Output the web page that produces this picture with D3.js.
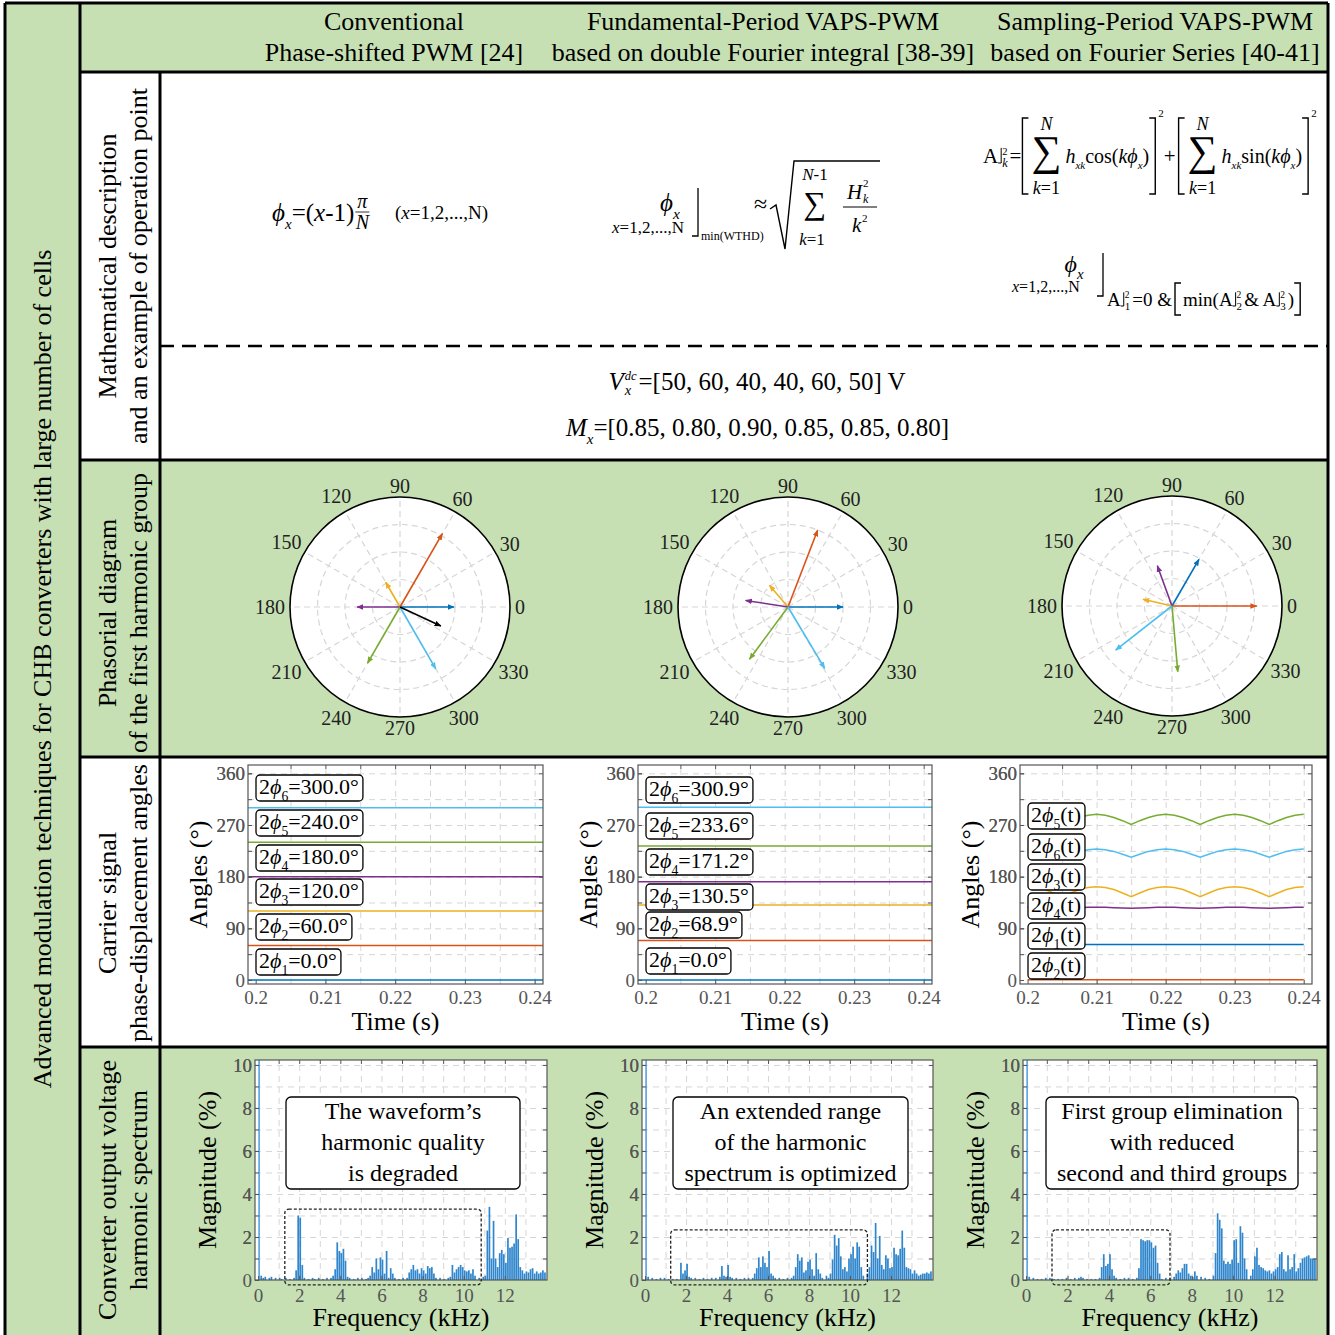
<!DOCTYPE html>
<html>
<head>
<meta charset="utf-8">
<script src="https://cdn.jsdelivr.net/npm/d3@7/dist/d3.min.js"></script>
<style>
  body { margin: 0; background: #fff; }
  svg text { font-family: "Liberation Serif", "Times New Roman", serif; }
</style>
</head>
<body>
<svg id="fig" width="1335" height="1335"></svg>
<script>
// ---------------- data ----------------
const columnTitles = [
  ["Conventional", "Phase-shifted PWM [24]"],
  ["Fundamental-Period VAPS-PWM", "based on double Fourier integral [38-39]"],
  ["Sampling-Period VAPS-PWM", "based on Fourier Series [40-41]"]
];
const rowTitles = [
  ["Mathematical description", "and an example of operation point"],
  ["Phasorial diagram", "of the first harmonic group"],
  ["Carrier signal", "phase-displacement angles"],
  ["Converter output voltage", "harmonic spectrum"]
];
const sideTitle = "Advanced modulation techniques for CHB converters with large number of cells";

const vdc = [50, 60, 40, 40, 60, 50];
const modIndex = ["0.85", "0.80", "0.90", "0.85", "0.85", "0.80"];

const cellColors = ["#0072BD", "#D95319", "#EDB120", "#7E2F8E", "#77AC30", "#4DBEEE"];

// phasor diagrams: angle (deg) and relative length of cells 1..6
const polarTicks = [0, 30, 60, 90, 120, 150, 180, 210, 240, 270, 300, 330];
const polarRings = [0.25, 0.5, 0.75];
const phasorAnglePS = [0, 60, 120, 180, 240, 300];
const phasorLenPS = [0.49, 0.77, 0.26, 0.39, 0.59, 0.65];
const phasorAngleFP = [0, 68.9, 130.5, 171.2, 233.6, 300.9];
const phasorLenFP = [0.50, 0.75, 0.26, 0.39, 0.59, 0.65];
const phasorAngleSP = [60, 0, 167, 110, 275, 218];
const phasorLenSP = [0.49, 0.77, 0.27, 0.39, 0.60, 0.65];
const resultantPS = [335, 0.41];

// carrier phase-displacement angles
const timeTicks = [0.2, 0.21, 0.22, 0.23, 0.24];
const timeGrid = [0.205, 0.21, 0.215, 0.22, 0.225, 0.23, 0.235, 0.24];
const angleTicks = [0, 90, 180, 270, 360];
const angleGrid = [45, 90, 135, 180, 225, 270, 315, 360];
const carrierPS = [0, 60, 120, 180, 240, 300];
const carrierFP = [0, 68.9, 130.5, 171.2, 233.6, 300.9];
const sampleTimes = [0.2, 0.20125, 0.2025, 0.20375, 0.205, 0.20625, 0.2075, 0.20875,
  0.21, 0.21125, 0.2125, 0.21375, 0.215, 0.21625, 0.2175, 0.21875,
  0.22, 0.22125, 0.2225, 0.22375, 0.225, 0.22625, 0.2275, 0.22875,
  0.23, 0.23125, 0.2325, 0.23375, 0.235, 0.23625, 0.2375, 0.23875, 0.24];
const spCell1 = [62, 62, 62, 62, 62, 62, 62, 62, 62, 62, 62, 62, 62, 62, 62, 62, 62,
  62, 62, 62, 62, 62, 62, 62, 62, 62, 62, 62, 62, 62, 62, 62, 62];
const spCell2 = [0.5, 0.5, 0.5, 0.5, 0.5, 0.5, 0.5, 0.5, 0.5, 0.5, 0.5, 0.5, 0.5, 0.5, 0.5, 0.5, 0.5,
  0.5, 0.5, 0.5, 0.5, 0.5, 0.5, 0.5, 0.5, 0.5, 0.5, 0.5, 0.5, 0.5, 0.5, 0.5, 0.5];
const spCell3 = [162.5, 161, 157.5, 151.5, 145, 151.5, 157.5, 161, 162.5, 161, 157.5, 151.5, 145, 151.5, 157.5, 161,
  162.5, 161, 157.5, 151.5, 145, 151.5, 157.5, 161, 162.5, 161, 157.5, 151.5, 145, 151.5, 157.5, 161, 162.5];
const spCell4 = [126.5, 126.5, 126, 125.5, 125, 125.5, 126, 126.5, 126.5, 126.5, 126, 125.5, 125, 125.5, 126, 126.5,
  126.5, 126.5, 126, 125.5, 125, 125.5, 126, 126.5, 126.5, 126.5, 126, 125.5, 125, 125.5, 126, 126.5, 126.5];
const spCell5 = [288.5, 287, 283, 277.5, 271, 277.5, 283, 287, 288.5, 287, 283, 277.5, 271, 277.5, 283, 287,
  288.5, 287, 283, 277.5, 271, 277.5, 283, 287, 288.5, 287, 283, 277.5, 271, 277.5, 283, 287, 288.5];
const spCell6 = [228, 227, 224, 219, 214, 219, 224, 227, 228, 227, 224, 219, 214, 219, 224, 227,
  228, 227, 224, 219, 214, 219, 224, 227, 228, 227, 224, 219, 214, 219, 224, 227, 228];
const spLegendOrder = [5, 6, 3, 4, 1, 2];

// harmonic spectra: [frequency kHz, magnitude %]
const freqTicks = [0, 2, 4, 6, 8, 10, 12];
const freqGrid = [1, 2, 3, 4, 5, 6, 7, 8, 9, 10, 11, 12, 13];
const magTicks = [0, 2, 4, 6, 8, 10];
const magGrid = [1, 2, 3, 4, 5, 6, 7, 8, 9, 10];
const specPS = [[0.05, 100], [0.15, 0.2], [0.25, 0.1], [0.35, 0.15], [0.55, 0.1], [0.65, 0.15], [0.85, 0.1], [1.05, 0.1],
  [1.15, 0.05], [1.35, 0.1], [1.55, 0.05], [1.75, 0.1], [1.85, 0.45], [1.95, 3.0], [2.05, 2.9], [2.15, 0.7], [2.25, 0.1],
  [2.45, 0.05], [2.65, 0.1], [2.75, 0.05], [2.95, 0.1], [3.15, 0.05], [3.35, 0.1], [3.55, 0.1], [3.65, 0.2], [3.75, 0.5],
  [3.85, 1.75], [3.95, 1.35], [4.05, 1.25], [4.15, 1.45], [4.25, 0.9], [4.35, 0.15], [4.45, 0.1], [4.65, 0.05], [4.85, 0.1],
  [5.05, 0.1], [5.25, 0.05], [5.35, 0.1], [5.45, 0.2], [5.55, 0.6], [5.65, 0.35], [5.75, 1.0], [5.85, 0.5], [5.95, 1.05],
  [6.05, 0.95], [6.15, 0.3], [6.25, 1.35], [6.35, 0.1], [6.45, 0.55], [6.55, 0.3], [6.65, 0.1], [6.85, 0.05], [7.05, 0.1],
  [7.25, 0.1], [7.35, 0.35], [7.45, 0.5], [7.55, 0.7], [7.65, 0.45], [7.75, 0.5], [7.85, 0.3], [7.95, 0.55], [8.05, 0.45],
  [8.15, 0.3], [8.25, 0.65], [8.35, 0.55], [8.45, 0.6], [8.55, 0.3], [8.65, 0.1], [8.85, 0.1], [9.05, 0.05], [9.25, 0.1],
  [9.35, 0.15], [9.45, 0.7], [9.55, 0.35], [9.65, 0.5], [9.75, 0.6], [9.85, 0.7], [9.95, 0.6], [10.05, 0.45], [10.15, 0.4],
  [10.25, 0.45], [10.35, 0.3], [10.45, 0.5], [10.55, 0.2], [10.75, 0.1], [10.95, 0.15], [11.05, 0.2], [11.15, 2.3],
  [11.25, 3.4], [11.35, 1.0], [11.45, 2.75], [11.55, 1.0], [11.65, 0.6], [11.75, 1.25], [11.85, 1.4], [11.95, 1.2],
  [12.05, 0.8], [12.15, 1.95], [12.25, 1.5], [12.35, 1.55], [12.45, 1.7], [12.55, 3.05], [12.65, 1.9], [12.75, 0.6],
  [12.85, 0.45], [12.95, 0.3], [13.05, 0.4], [13.15, 0.35], [13.25, 0.5], [13.35, 0.55], [13.45, 0.3], [13.55, 0.4],
  [13.65, 0.3], [13.75, 0.35], [13.85, 0.45], [13.95, 0.35]];
const specFP = [[0.05, 100], [0.15, 0.15], [0.35, 0.1], [0.55, 0.05], [0.75, 0.1], [0.95, 0.1], [1.15, 0.05], [1.35, 0.05],
  [1.55, 0.05], [1.75, 0.8], [1.85, 0.3], [1.95, 0.45], [2.05, 0.75], [2.15, 0.15], [2.25, 0.1], [2.45, 0.1], [2.65, 0.05],
  [2.85, 0.1], [3.05, 0.05], [3.25, 0.1], [3.45, 0.1], [3.65, 0.15], [3.75, 0.65], [3.85, 0.2], [3.95, 0.15], [4.05, 0.7],
  [4.15, 0.15], [4.25, 0.1], [4.45, 0.1], [4.65, 0.05], [4.85, 0.1], [5.05, 0.1], [5.25, 0.1], [5.35, 0.3], [5.45, 0.55],
  [5.55, 1.05], [5.65, 0.6], [5.75, 1.1], [5.85, 0.8], [5.95, 0.6], [6.05, 1.35], [6.15, 0.3], [6.25, 0.2], [6.35, 0.1],
  [6.55, 0.1], [6.75, 0.05], [6.95, 0.1], [7.15, 0.1], [7.25, 0.2], [7.35, 0.6], [7.45, 1.2], [7.55, 0.9], [7.65, 1.05],
  [7.75, 0.35], [7.85, 0.45], [7.95, 0.85], [8.05, 0.95], [8.15, 0.5], [8.25, 0.2], [8.35, 1.25], [8.45, 0.5], [8.55, 0.3],
  [8.65, 0.1], [8.85, 0.2], [8.95, 0.1], [9.05, 0.3], [9.15, 0.95], [9.25, 2.1], [9.35, 1.6], [9.45, 1.95], [9.55, 1.1],
  [9.65, 0.5], [9.75, 0.6], [9.85, 0.4], [9.95, 1.0], [10.05, 1.2], [10.15, 1.55], [10.25, 1.0], [10.35, 1.75],
  [10.45, 1.55], [10.55, 0.6], [10.65, 0.2], [10.85, 0.3], [10.95, 0.6], [11.05, 1.6], [11.15, 1.3], [11.25, 2.65],
  [11.35, 1.0], [11.45, 2.05], [11.55, 0.7], [11.65, 0.5], [11.75, 1.15], [11.85, 1.0], [11.95, 0.55], [12.05, 0.6],
  [12.15, 1.5], [12.25, 1.2], [12.35, 1.15], [12.45, 1.45], [12.55, 2.3], [12.65, 1.5], [12.75, 0.6], [12.85, 0.55],
  [12.95, 0.5], [13.05, 0.3], [13.15, 0.45], [13.25, 0.3], [13.35, 0.2], [13.45, 0.25], [13.55, 0.3], [13.65, 0.3],
  [13.75, 0.35], [13.85, 0.3], [13.95, 0.4]];
const specSP = [[0.05, 100], [0.15, 0.15], [0.35, 0.1], [0.55, 0.05], [0.75, 0.05], [0.95, 0.1], [1.15, 0.1], [1.35, 0.05],
  [1.55, 0.05], [1.75, 0.05], [1.95, 0.1], [2.15, 0.05], [2.35, 0.1], [2.55, 0.1], [2.65, 0.15], [2.75, 0.1], [2.95, 0.05],
  [3.15, 0.05], [3.35, 0.05], [3.55, 0.1], [3.65, 0.6], [3.75, 1.2], [3.85, 0.65], [3.95, 0.75], [4.05, 1.2], [4.15, 0.5],
  [4.25, 0.2], [4.35, 0.1], [4.55, 0.05], [4.75, 0.1], [4.95, 0.1], [5.15, 0.05], [5.35, 0.1], [5.45, 0.55], [5.55, 1.9],
  [5.65, 1.85], [5.75, 1.8], [5.85, 1.85], [5.95, 1.85], [6.05, 1.75], [6.15, 1.5], [6.25, 1.6], [6.35, 0.8], [6.45, 0.3],
  [6.55, 0.05], [6.75, 0.1], [6.95, 0.1], [7.15, 0.15], [7.25, 0.3], [7.35, 0.45], [7.45, 0.35], [7.55, 0.55], [7.65, 0.75],
  [7.75, 0.75], [7.85, 0.3], [7.95, 0.2], [8.05, 0.15], [8.15, 0.4], [8.25, 0.2], [8.45, 0.15], [8.65, 0.1], [8.85, 0.05],
  [9.05, 0.2], [9.15, 1.25], [9.25, 3.1], [9.35, 2.8], [9.45, 2.4], [9.55, 0.9], [9.65, 0.75], [9.75, 0.85], [9.85, 0.75],
  [9.95, 0.95], [10.05, 1.85], [10.15, 1.9], [10.25, 0.8], [10.35, 2.5], [10.45, 2.2], [10.55, 1.0], [10.65, 0.5],
  [10.85, 0.2], [10.95, 0.5], [11.05, 1.1], [11.15, 1.5], [11.25, 0.7], [11.35, 0.6], [11.45, 0.55], [11.55, 0.45],
  [11.65, 0.4], [11.75, 0.45], [11.85, 0.3], [11.95, 0.4], [12.05, 0.5], [12.15, 0.6], [12.25, 1.2], [12.35, 1.3],
  [12.45, 0.5], [12.55, 0.4], [12.65, 1.15], [12.75, 0.5], [12.85, 0.6], [12.95, 1.2], [13.05, 0.4], [13.15, 0.55],
  [13.25, 0.8], [13.35, 1.0], [13.45, 1.05], [13.55, 1.1], [13.65, 1.15], [13.75, 1.0], [13.85, 1.0], [13.95, 1.0]];
const specNotes = [
  ["The waveform\u2019s", "harmonic quality", "is degraded"],
  ["An extended range", "of the harmonic", "spectrum is optimized"],
  ["First group elimination", "with reduced", "second and third groups"]
];
const groupBoxes = [[1.3, 10.85, -0.23, 3.3], [1.25, 10.85, -0.23, 2.33], [1.25, 6.95, -0.23, 2.33]];

// ---------------- layout ----------------
const svg = d3.select("#fig");
const GREEN = "#c6e0b4";
const TICK = "#555";
const GRID = "#d6d6d6";
const PHI = "\u03d5";
const colCenters = [394, 763, 1155];
const rowCenters = [266, 613, 903, 1190];
const polarCenters = [[400, 607], [788, 607], [1172, 606]];
const polarR = 110;
const carrierBoxes = [{x0: 248, x1: 543, y0: 765, y1: 984}, {x0: 638, x1: 932, y0: 765, y1: 984}, {x0: 1020, x1: 1312, y0: 765, y1: 984}];
const specBoxes = [{x0: 255, x1: 547, y0: 1060, y1: 1280}, {x0: 642, x1: 933, y0: 1060, y1: 1280}, {x0: 1023, x1: 1317, y0: 1060, y1: 1280}];
const noteBoxes = [[286, 520], [673, 908], [1046, 1298]];

// backgrounds
svg.append("rect").attr("width", 1335).attr("height", 1335).attr("fill", "#fff");
svg.append("rect").attr("x", 5).attr("y", 3).attr("width", 75).attr("height", 1332).attr("fill", GREEN);
svg.append("rect").attr("x", 80).attr("y", 3).attr("width", 1248).attr("height", 69).attr("fill", GREEN);
svg.append("rect").attr("x", 80).attr("y", 460).attr("width", 1248).attr("height", 297).attr("fill", GREEN);
svg.append("rect").attr("x", 80).attr("y", 1047).attr("width", 1248).attr("height", 288).attr("fill", GREEN);

// frame lines
const frameLines = [[5, 3, 1328, 3], [5, 3, 5, 1335], [80, 3, 80, 1335], [160, 72, 160, 1335], [1328, 3, 1328, 1335],
  [80, 72, 1328, 72], [80, 460, 1328, 460], [80, 757, 1328, 757], [80, 1047, 1328, 1047]];
svg.selectAll("line.frame").data(frameLines).join("line").attr("class", "frame")
  .attr("x1", d => d[0]).attr("y1", d => d[1]).attr("x2", d => d[2]).attr("y2", d => d[3])
  .attr("stroke", "#000").attr("stroke-width", 3);
svg.append("line").attr("x1", 160).attr("x2", 1328).attr("y1", 346).attr("y2", 346)
  .attr("stroke", "#000").attr("stroke-width", 2.6).attr("stroke-dasharray", "14,8");

// titles
columnTitles.forEach((lines, i) => {
  lines.forEach((s, j) => svg.append("text").attr("x", colCenters[i]).attr("y", [30, 61][j])
    .attr("text-anchor", "middle").attr("font-size", 26).text(s));
});
rowTitles.forEach((lines, i) => {
  lines.forEach((s, j) => svg.append("text")
    .attr("transform", `translate(${[116, 147][j]},${rowCenters[i]}) rotate(-90)`)
    .attr("text-anchor", "middle").attr("font-size", 26).text(s));
});
svg.append("text").attr("transform", "translate(51,669) rotate(-90)")
  .attr("text-anchor", "middle").attr("font-size", 26).text(sideTitle);

// ---------------- math helpers ----------------
function rich(parent, x, y, size, parts, anchor) {
  const t = parent.append("text").attr("x", x).attr("y", y).attr("font-size", size)
    .attr("text-anchor", anchor || "start");
  let shift = 0;
  parts.forEach(([s, st = ""]) => {
    const sp = t.append("tspan").text(s);
    const target = st.includes("b") ? size * 0.3 : st.includes("p") ? -size * 0.42 : 0;
    if (target !== shift) { sp.attr("dy", target - shift); shift = target; }
    if (target !== 0) sp.attr("font-size", size * 0.62);
    if (st.includes("i")) sp.attr("font-style", "italic");
  });
  return t;
}

function mathSeq(parent, x, y, size, items) {
  let cx = x;
  items.forEach(it => {
    if (it.gap) { cx += it.gap; return; }
    if (it.br) {
      const h = size * 0.72;
      if (it.bar !== false) {
        parent.append("path").attr("d", `M${cx},${y} H${cx + 3} V${y - h}`)
          .attr("fill", "none").attr("stroke", "#000").attr("stroke-width", 1);
      }
      const off = it.bar === false ? 1 : 4;
      const a = parent.append("text").attr("x", cx + off).attr("y", y - h * 0.55).attr("font-size", size * 0.5).text(it.sup);
      const b = parent.append("text").attr("x", cx + off).attr("y", y + size * 0.2).attr("font-size", size * 0.58).text(it.sub);
      if (it.supI) a.attr("font-style", "italic");
      if (it.subI) b.attr("font-style", "italic");
      cx += off + 2 + Math.max(a.node().getComputedTextLength(), b.node().getComputedTextLength());
      return;
    }
    if (it.L || it.R) {
      const [y0, y1] = it.L || it.R;
      const d = it.L ? `M${cx + 7},${y0} H${cx + 1} V${y1} H${cx + 7}` : `M${cx},${y0} H${cx + 6} V${y1} H${cx}`;
      parent.append("path").attr("d", d).attr("fill", "none").attr("stroke", "#000").attr("stroke-width", 1.4);
      cx += 9;
      return;
    }
    if (it.sum) {
      const s = parent.append("text").attr("x", cx + 1).attr("y", y + 2).attr("font-size", it.fs).text("\u2211");
      const w = s.node().getComputedTextLength() + 2;
      rich(parent, cx + w / 2, y - 33, 18, [["N", "i"]], "middle");
      rich(parent, cx + w / 2, y + 31, 18, [["k", "i"], ["=1"]], "middle");
      cx += w + 3;
      return;
    }
    const fs = it.fs || (it.sub || it.sup ? size * 0.6 : size);
    const dy = it.dy !== undefined ? it.dy : it.sub ? size * 0.3 : it.sup ? -size * 0.45 : 0;
    const t = parent.append("text").attr("x", cx).attr("y", y + dy).attr("font-size", fs).text(it.t);
    if (it.i) t.attr("font-style", "italic");
    cx += t.node().getComputedTextLength() + (it.after || 0);
  });
  return cx;
}

// ---------------- mathematical description row ----------------
const math = svg.append("g");
// conventional
let ex = mathSeq(math, 272, 221, 25, [{t: PHI, i: 1}, {t: "x", i: 1, sub: 1}, {t: "=("}, {t: "x", i: 1}, {t: "-1)"}]);
math.append("text").attr("x", ex + 8).attr("y", 208).attr("text-anchor", "middle").attr("font-size", 20).attr("font-style", "italic").text("\u03c0");
math.append("line").attr("x1", ex + 1).attr("x2", ex + 15).attr("y1", 212).attr("y2", 212).attr("stroke", "#000").attr("stroke-width", 0.8);
math.append("text").attr("x", ex + 8).attr("y", 229).attr("text-anchor", "middle").attr("font-size", 20).attr("font-style", "italic").text("N");
mathSeq(math, 395, 219, 19, [{t: "("}, {t: "x", i: 1}, {t: "=1,2,...,N)"}]);

// fundamental period
rich(math, 670, 211, 25, [[PHI, "i"], ["x", "ib"]], "middle");
mathSeq(math, 612, 233, 17, [{t: "x", i: 1}, {t: "=1,2,...,N"}]);
math.append("path").attr("d", "M692,236 H698 V188").attr("fill", "none").attr("stroke", "#000").attr("stroke-width", 1.3);
math.append("text").attr("x", 701).attr("y", 240).attr("font-size", 12).text("min(WTHD)");
math.append("text").attr("x", 754).attr("y", 212).attr("font-size", 24).text("\u2248");
math.append("path").attr("d", "M770,209 L776,205 L785,249 L794,161 H880").attr("fill", "none").attr("stroke", "#000").attr("stroke-width", 1.4);
rich(math, 815, 180, 17, [["N", "i"], ["-1"]], "middle");
math.append("text").attr("x", 815).attr("y", 214).attr("text-anchor", "middle").attr("font-size", 32).text("\u2211");
rich(math, 812, 245, 17, [["k", "i"], ["=1"]], "middle");
math.append("text").attr("x", 847).attr("y", 199).attr("font-size", 21).attr("font-style", "italic").text("H");
math.append("text").attr("x", 863).attr("y", 187).attr("font-size", 11).text("2");
math.append("text").attr("x", 863).attr("y", 203).attr("font-size", 12).attr("font-style", "italic").text("k");
math.append("line").attr("x1", 843).attr("x2", 877).attr("y1", 207).attr("y2", 207).attr("stroke", "#000").attr("stroke-width", 1);
math.append("text").attr("x", 852).attr("y", 232).attr("font-size", 21).attr("font-style", "italic").text("k");
math.append("text").attr("x", 862).attr("y", 222).attr("font-size", 11).text("2");

// sampling period
mathSeq(math, 983, 163, 21, [
  {t: "A"}, {br: 1, sup: "2", sub: "k", subI: 1}, {t: "="}, {L: [118, 194]},
  {sum: 1, fs: 42}, {t: "h", i: 1, fs: 20}, {t: "xk", i: 1, sub: 1, fs: 11}, {t: "cos(", fs: 20}, {t: "k" + PHI, i: 1, fs: 20},
  {t: "x", i: 1, sub: 1, fs: 11}, {t: ")", fs: 20}, {R: [118, 194]}, {t: "2", fs: 11, dy: -46},
  {t: "+", fs: 21, after: 2}, {L: [118, 194]},
  {sum: 1, fs: 42}, {t: "h", i: 1, fs: 20}, {t: "xk", i: 1, sub: 1, fs: 11}, {t: "sin(", fs: 20}, {t: "k" + PHI, i: 1, fs: 20},
  {t: "x", i: 1, sub: 1, fs: 11}, {t: ")", fs: 20}, {R: [118, 194]}, {t: "2", fs: 11, dy: -46}
]);
rich(math, 1074, 272, 24, [[PHI, "i"], ["x", "ib"]], "middle");
mathSeq(math, 1012, 292, 16, [{t: "x", i: 1}, {t: "=1,2,...,N"}]);
math.append("path").attr("d", "M1097,296 H1103 V253").attr("fill", "none").attr("stroke", "#000").attr("stroke-width", 1.3);
mathSeq(math, 1107, 306, 19, [
  {t: "A"}, {br: 1, sup: "2", sub: "1"}, {t: "=0 &", after: 2}, {L: [283, 315]},
  {t: "min(A"}, {br: 1, sup: "2", sub: "2"}, {t: "& A"}, {br: 1, sup: "2", sub: "3"}, {t: ")"}, {R: [283, 315]}
]);

// operation point
const opV = math.append("g");
mathSeq(opV, 0, 390, 25, [{t: "V", i: 1}, {br: 1, bar: false, sup: "dc", sub: "x", supI: 1, subI: 1},
  {t: "=[" + vdc.join(", ") + "] V"}]);
const opM = math.append("g");
mathSeq(opM, 0, 436, 25, [{t: "M", i: 1}, {t: "x", i: 1, sub: 1}, {t: "=[" + modIndex.join(", ") + "]"}]);
[opV, opM].forEach(g => {
  const b = g.node().getBBox();
  g.attr("transform", `translate(${757 - b.x - b.width / 2},0)`);
});

// ---------------- phasor diagrams ----------------
const defs = svg.append("defs");
[...cellColors, "#000000"].forEach(c => {
  defs.append("marker").attr("id", "ah" + c.slice(1)).attr("viewBox", "0 0 10 10")
    .attr("refX", 9).attr("refY", 5).attr("markerWidth", 7).attr("markerHeight", 7)
    .attr("markerUnits", "userSpaceOnUse").attr("orient", "auto")
    .append("path").attr("d", "M0,1L10,5L0,9Z").attr("fill", c);
});

function polarPanel(center, angles, lens, extra) {
  const g = svg.append("g").attr("transform", `translate(${center[0]},${center[1]})`);
  const r = d3.scaleLinear().domain([0, 1]).range([0, polarR]);
  const pt = (a, v) => [r(v) * Math.cos(a * Math.PI / 180), -r(v) * Math.sin(a * Math.PI / 180)];
  g.append("circle").attr("r", polarR).attr("fill", "#fff");
  g.selectAll("circle.ring").data(polarRings).join("circle").attr("class", "ring")
    .attr("r", d => r(d)).attr("fill", "none").attr("stroke", GRID).attr("stroke-width", 1.2).attr("stroke-dasharray", "6,4");
  g.selectAll("line.spoke").data(polarTicks).join("line").attr("class", "spoke")
    .attr("x2", d => pt(d, 1)[0]).attr("y2", d => pt(d, 1)[1])
    .attr("stroke", GRID).attr("stroke-width", 1.2).attr("stroke-dasharray", "6,4");
  g.append("circle").attr("r", polarR).attr("fill", "none").attr("stroke", "#000").attr("stroke-width", 1.6);
  g.selectAll("text.plab").data(polarTicks).join("text").attr("class", "plab")
    .each(function(d) {
      const a = d * Math.PI / 180;
      const hw = String(d).length * 5;
      const rr = polarR + 5 + hw * Math.abs(Math.cos(a)) + 6 * Math.abs(Math.sin(a));
      d3.select(this).attr("x", rr * Math.cos(a)).attr("y", -rr * Math.sin(a));
    })
    .attr("dy", "0.35em").attr("text-anchor", "middle").attr("font-size", 20).attr("fill", "#222").text(d => d);
  const vecs = angles.map((a, i) => ({a: a, v: lens[i], c: cellColors[i]}));
  if (extra) vecs.push({a: extra[0], v: extra[1], c: "#000000"});
  g.selectAll("line.vec").data(vecs).join("line").attr("class", "vec")
    .attr("x2", d => pt(d.a, d.v)[0]).attr("y2", d => pt(d.a, d.v)[1])
    .attr("stroke", d => d.c).attr("stroke-width", 1.6)
    .attr("marker-end", d => `url(#ah${d.c.slice(1)})`);
}
polarPanel(polarCenters[0], phasorAnglePS, phasorLenPS, resultantPS);
polarPanel(polarCenters[1], phasorAngleFP, phasorLenFP, null);
polarPanel(polarCenters[2], phasorAngleSP, phasorLenSP, null);

// ---------------- shared axes helpers ----------------
function styleAxis(sel) {
  sel.select(".domain").remove();
  sel.selectAll("line").attr("stroke", TICK);
  sel.selectAll("text").attr("fill", TICK).attr("font-size", 19);
}
function axesFrame(g, box, x, y, xGrid, yGrid, xTicks, yTicks, xPad) {
  const w = box.x1 - box.x0, h = box.y1 - box.y0;
  g.append("rect").attr("x", box.x0).attr("y", box.y0).attr("width", w).attr("height", h).attr("fill", "#fff");
  g.append("g").attr("transform", `translate(0,${box.y1})`)
    .call(d3.axisBottom(x).tickValues(xGrid).tickSize(-h).tickFormat(""))
    .call(s => { s.select(".domain").remove(); s.selectAll("line").attr("stroke", GRID).attr("stroke-dasharray", "6,5"); });
  g.append("g").attr("transform", `translate(${box.x0},0)`)
    .call(d3.axisLeft(y).tickValues(yGrid).tickSize(-w).tickFormat(""))
    .call(s => { s.select(".domain").remove(); s.selectAll("line").attr("stroke", GRID).attr("stroke-dasharray", "6,5"); });
  return () => {
    g.append("g").attr("transform", `translate(0,${box.y1})`)
      .call(d3.axisBottom(x).tickValues(xTicks).tickSizeInner(-4).tickSizeOuter(0).tickPadding(xPad).tickFormat(d3.format("")))
      .call(styleAxis);
    g.append("g").attr("transform", `translate(0,${box.y0})`)
      .call(d3.axisTop(x).tickValues(xGrid).tickSizeInner(-4).tickSizeOuter(0).tickFormat(""))
      .call(styleAxis);
    g.append("g").attr("transform", `translate(${box.x0},0)`)
      .call(d3.axisLeft(y).tickValues(yGrid.concat(yTicks)).tickSizeInner(-4).tickSizeOuter(0).tickPadding(3)
        .tickFormat(d => yTicks.includes(d) ? d : ""))
      .call(styleAxis);
    g.append("g").attr("transform", `translate(${box.x1},0)`)
      .call(d3.axisRight(y).tickValues(yGrid).tickSizeInner(-4).tickSizeOuter(0).tickFormat(""))
      .call(styleAxis);
    g.append("rect").attr("x", box.x0).attr("y", box.y0).attr("width", w).attr("height", h)
      .attr("fill", "none").attr("stroke", TICK).attr("stroke-width", 1.2);
  };
}

// ---------------- carrier angles ----------------
function carrierPanel(box, series, legend) {
  const g = svg.append("g");
  const x = d3.scaleLinear().domain([0.1989, 0.2412]).range([box.x0, box.x1]);
  const y = d3.scaleLinear().domain([-7, 374.5]).range([box.y1, box.y0]);
  const finish = axesFrame(g, box, x, y, timeGrid, angleGrid, timeTicks, angleTicks, 7);
  const line = d3.line().x(d => x(d[0])).y(d => y(d[1]));
  g.selectAll("path.carrier").data(series).join("path").attr("class", "carrier")
    .attr("d", d => line(d.pts)).attr("fill", "none").attr("stroke", d => d.color).attr("stroke-width", 1.5);
  finish();
  legend.forEach(l => {
    const t = rich(g, box.x0 + 11, l.top + 19, 22, l.parts);
    const b = t.node().getBBox();
    g.insert("rect", () => t.node()).attr("x", box.x0 + 8).attr("y", l.top)
      .attr("width", b.width + 7).attr("height", 26).attr("rx", 4)
      .attr("fill", "#fff").attr("stroke", "#000").attr("stroke-width", 1.3);
  });
  g.append("text").attr("transform", `translate(${box.x0 - 41},${(box.y0 + box.y1) / 2}) rotate(-90)`)
    .attr("text-anchor", "middle").attr("font-size", 26).text("Angles (\u00b0)");
  g.append("text").attr("x", (box.x0 + box.x1) / 2).attr("y", 1030)
    .attr("text-anchor", "middle").attr("font-size", 26).text("Time (s)");
}
const constSeries = vals => vals.map((v, i) => ({color: cellColors[i], pts: [[0.1989, v], [0.2412, v]]}));
const legendTopsPS = [949, 914, 879, 845, 810, 775];
const legendTopsFP = [948, 912, 884, 849, 813, 777];
const legendTopsSP = [803, 834, 864, 893, 923, 953];
carrierPanel(carrierBoxes[0], constSeries(carrierPS),
  carrierPS.map((v, i) => ({top: legendTopsPS[i], parts: [["2"], [PHI, "i"], [String(i + 1), "b"], ["=" + v.toFixed(1) + "\u00b0"]]})));
carrierPanel(carrierBoxes[1], constSeries(carrierFP),
  carrierFP.map((v, i) => ({top: legendTopsFP[i], parts: [["2"], [PHI, "i"], [String(i + 1), "b"], ["=" + v.toFixed(1) + "\u00b0"]]})));
const spSeries = [spCell1, spCell2, spCell3, spCell4, spCell5, spCell6]
  .map((vals, i) => ({color: cellColors[i], pts: vals.map((v, k) => [sampleTimes[k], v])}));
carrierPanel(carrierBoxes[2], spSeries,
  spLegendOrder.map((c, i) => ({top: legendTopsSP[i], parts: [["2"], [PHI, "i"], [String(c), "b"], ["(t)"]]})));

// ---------------- harmonic spectra ----------------
function spectrumPanel(box, data, note, noteX, group, idx) {
  const g = svg.append("g");
  const x = d3.scaleLinear().domain([-0.15, 14.05]).range([box.x0, box.x1]);
  const y = d3.scaleLinear().domain([0, 10.23]).range([box.y1, box.y0]);
  const finish = axesFrame(g, box, x, y, freqGrid, magGrid, freqTicks, magTicks, 9);
  defs.append("clipPath").attr("id", "clipS" + idx).append("rect")
    .attr("x", box.x0).attr("y", box.y0).attr("width", box.x1 - box.x0).attr("height", box.y1 - box.y0);
  g.append("g").attr("clip-path", `url(#clipS${idx})`)
    .selectAll("rect").data(data).join("rect")
    .attr("x", d => x(d[0]) - 0.85).attr("width", 1.7)
    .attr("y", d => y(Math.min(d[1], 11))).attr("height", d => y(0) - y(Math.min(d[1], 11)))
    .attr("fill", d => d[1] > 50 ? "#5fa8e0" : "#2f86cc");
  finish();
  g.append("rect").attr("x", x(group[0])).attr("y", y(group[3])).attr("width", x(group[1]) - x(group[0]))
    .attr("height", y(group[2]) - y(group[3])).attr("rx", 4)
    .attr("fill", "none").attr("stroke", "#222").attr("stroke-width", 1.3).attr("stroke-dasharray", "3,2");
  g.append("rect").attr("x", noteX[0]).attr("y", 1097).attr("width", noteX[1] - noteX[0]).attr("height", 92).attr("rx", 5)
    .attr("fill", "#fff").attr("stroke", "#000").attr("stroke-width", 1.3);
  note.forEach((s, j) => g.append("text").attr("x", (noteX[0] + noteX[1]) / 2).attr("y", 1119 + j * 31)
    .attr("text-anchor", "middle").attr("font-size", 24).text(s));
  g.append("text").attr("transform", `translate(${box.x0 - 39},${(box.y0 + box.y1) / 2}) rotate(-90)`)
    .attr("text-anchor", "middle").attr("font-size", 26).text("Magnitude (%)");
  g.append("text").attr("x", (box.x0 + box.x1) / 2).attr("y", 1326)
    .attr("text-anchor", "middle").attr("font-size", 26).text("Frequency (kHz)");
}
spectrumPanel(specBoxes[0], specPS, specNotes[0], noteBoxes[0], groupBoxes[0], 0);
spectrumPanel(specBoxes[1], specFP, specNotes[1], noteBoxes[1], groupBoxes[1], 1);
spectrumPanel(specBoxes[2], specSP, specNotes[2], noteBoxes[2], groupBoxes[2], 2);
</script>
</body>
</html>
